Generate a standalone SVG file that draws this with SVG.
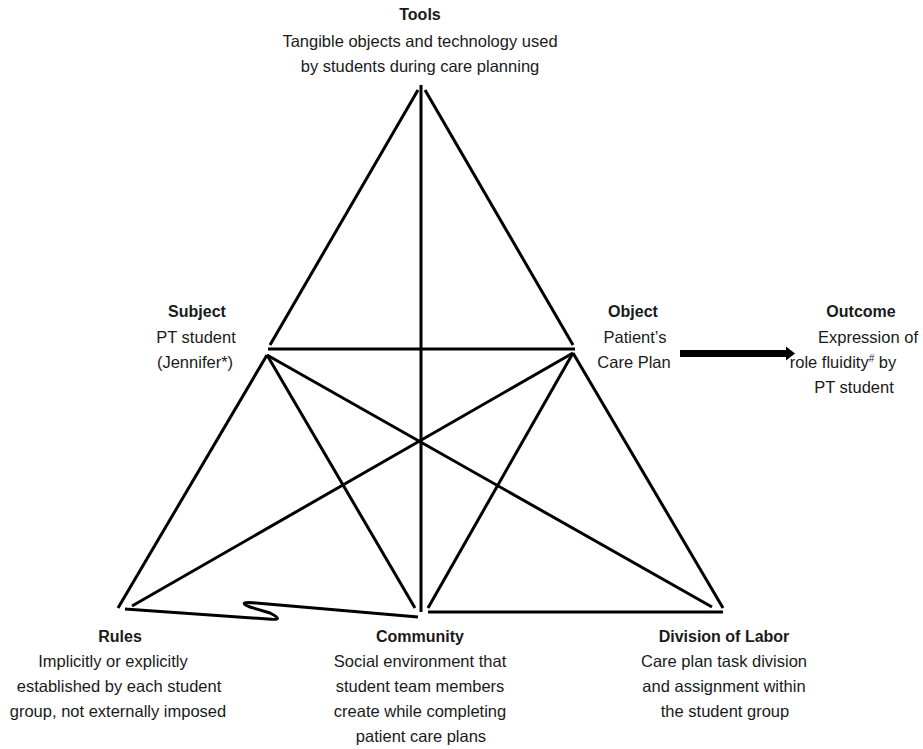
<svg xmlns="http://www.w3.org/2000/svg" width="923" height="749" viewBox="0 0 923 749">
<style>
  text { font-family: "Liberation Sans", Arial, sans-serif; font-size: 16.5px; fill: #1a1a1a; text-anchor: middle; }
  .h { font-weight: bold; font-size: 16px; }
  .ln { stroke: #000; stroke-width: 3; fill: none; }
</style>
<defs>
  <marker id="ah" markerUnits="userSpaceOnUse" markerWidth="10" markerHeight="16" refX="1" refY="8" orient="auto">
    <path d="M0,1 L9,8 L0,15 Z" fill="#000"/>
  </marker>
</defs>
<rect width="923" height="749" fill="#fff"/>
<g id="connectors">
  <line class="ln" x1="418" y1="90" x2="270" y2="345"/>
  <line class="ln" x1="425" y1="90" x2="573" y2="345"/>
  <line class="ln" x1="421" y1="85" x2="421" y2="612"/>
  <line class="ln" x1="268" y1="349" x2="575" y2="349"/>
  <line class="ln" x1="267" y1="355" x2="118" y2="608"/>
  <line class="ln" x1="267" y1="355" x2="415" y2="608"/>
  <line class="ln" x1="267" y1="355" x2="712" y2="607"/>
  <line class="ln" x1="573" y1="353" x2="723" y2="608"/>
  <line class="ln" x1="573" y1="353" x2="428" y2="608"/>
  <line class="ln" x1="573" y1="353" x2="132" y2="606"/>
  <line class="ln" x1="428" y1="612" x2="723" y2="612"/>
  <path class="ln" d="M125,609 L268,619 Q286,621 270,613 L250,607 Q236,601 256,603 L418,617"/>
  <line x1="680" y1="353.5" x2="787" y2="353.5" stroke="#000" stroke-width="7" marker-end="url(#ah)"/>
</g>
<g id="tools">
  <text class="h" x="420" y="20">Tools</text>
  <text x="420" y="47">Tangible objects and technology used</text>
  <text x="420" y="72">by students during care planning</text>
</g>
<g id="subject">
  <text class="h" x="197" y="317">Subject</text>
  <text x="196" y="343">PT student</text>
  <text x="195" y="368">(Jennifer*)</text>
</g>
<g id="object">
  <text class="h" x="633" y="317">Object</text>
  <text x="635" y="343">Patient’s</text>
  <text x="634" y="368">Care Plan</text>
</g>
<g id="outcome">
  <text class="h" x="861" y="317">Outcome</text>
  <text x="868" y="343">Expression of</text>
  <text x="843" y="368">role fluidity<tspan font-size="10" dy="-6">#</tspan><tspan dy="6"> by</tspan></text>
  <text x="854" y="393">PT student</text>
</g>
<g id="rules">
  <text class="h" x="120" y="642">Rules</text>
  <text x="113" y="667">Implicitly or explicitly</text>
  <text x="119" y="692">established by each student</text>
  <text x="118" y="717">group, not externally imposed</text>
</g>
<g id="community">
  <text class="h" x="420" y="642">Community</text>
  <text x="420" y="667">Social environment that</text>
  <text x="420" y="692">student team members</text>
  <text x="420" y="717">create while completing</text>
  <text x="421" y="742">patient care plans</text>
</g>
<g id="division">
  <text class="h" x="724" y="642">Division of Labor</text>
  <text x="724" y="667">Care plan task division</text>
  <text x="724" y="692">and assignment within</text>
  <text x="725" y="717">the student group</text>
</g>
</svg>
